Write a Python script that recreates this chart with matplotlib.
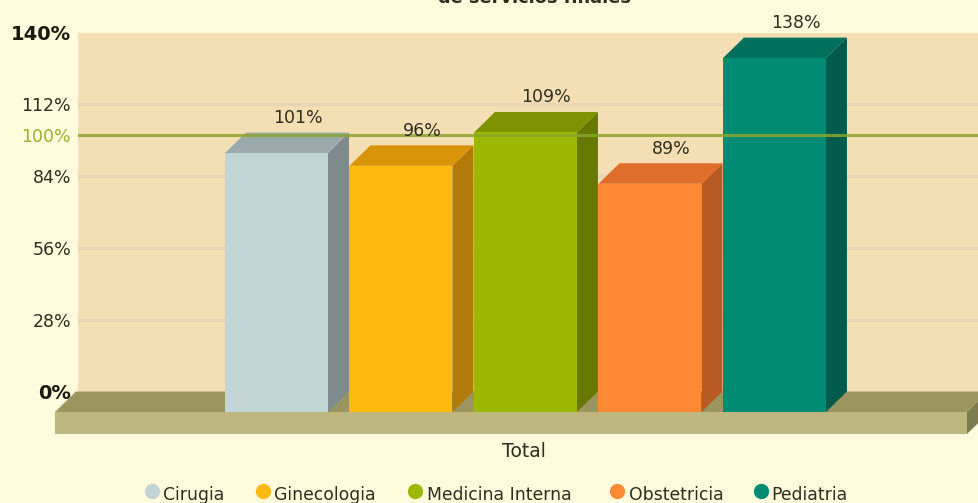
import matplotlib
matplotlib.use("Agg")
import matplotlib.pyplot as plt
from matplotlib.patches import Polygon

servicios = ["Cirugia", "Ginecologia", "Medicina Interna", "Obstetricia", "Pediatria"]
valores = [101, 96, 109, 89, 138]
etiquetas = ["101%", "96%", "109%", "89%", "138%"]
ticks = [0, 28, 56, 84, 112, 140]
tick_labels = ["0%", "28%", "56%", "84%", "112%", "140%"]
meta = 100

frente = ["#C1D4D6", "#FFBA0D", "#9DB800", "#FF8A36", "#008C74"]
arriba = ["#9AAAAB", "#D9950A", "#7E9300", "#E06E2B", "#00705D"]
lado = ["#7E8A8B", "#B27A08", "#667800", "#B85A24", "#005B4C"]

W, H = 979, 503
fondo = "#FFFBDC"
pared = "#F4DFB4"
texto = "#2E2E20"

fig = plt.figure(figsize=(W / 100, H / 100), dpi=100, facecolor=fondo)
# the axes is exactly the back wall of the chart
ax = fig.add_axes([78 / W, 1 - 391.5 / H, (W - 78) / W, 359 / H], facecolor=pared)
ax.set_ylim(0, 140)
ax.set_xlim(-1.594, 5.643)
for s in ax.spines.values():
    s.set_visible(False)

# depth of the fake 3d, in data units
dx = 21 / 124.5
dy = 20.5 / (359 / 140)
ancho = 103 / 124.5
piso = -dy

ax.set_yticks(ticks)
ax.set_yticklabels(tick_labels, fontsize=12.5, color=texto)
ax.tick_params(axis="y", length=0, pad=5)
ax.set_xticks([])
for t, lab in zip(ticks, ax.get_yticklabels()):
    lab.set_verticalalignment("center_baseline")
    if t in (0, 140):
        lab.set_fontweight("bold")
        lab.set_fontsize(14)
        lab.set_color("#1A1A10")
for t in ticks[1:-1]:
    ax.axhline(t, color="#E8D5B8", lw=2.5, zorder=1)


def poly(puntos, color, z):
    ax.add_patch(Polygon(puntos, closed=True, facecolor=color, edgecolor="none",
                         clip_on=False, zorder=z))


# floor
x0 = -1.594 - 23 / 124.5
x1 = x0 + 912 / 124.5
grosor = 22 / (359 / 140)
poly([(x0, piso), (x0 + dx, 0), (x1 + dx, 0), (x1, piso)], "#9B9560", 2)
poly([(x0, piso), (x1, piso), (x1, piso - grosor), (x0, piso - grosor)], "#BDB77F", 2)
poly([(x1, piso), (x1 + dx, 0), (x1 + dx, -grosor), (x1, piso - grosor)], "#7F7B50", 2)

# bars, drawn left to right so each one covers the side of the one before
for i, v in enumerate(valores):
    izq = i - ancho / 2
    der = i + ancho / 2
    z = 3 + i * 0.1
    poly([(der, piso), (der + dx, 0), (der + dx, v), (der, v - dy)], lado[i], z)
    poly([(izq, v - dy), (izq + dx, v), (der + dx, v), (der, v - dy)], arriba[i], z)
    ax.bar(i, v, width=ancho, bottom=piso, color=frente[i], zorder=z, clip_on=False)
    ax.text(i + dx, v + 2.2, etiquetas[i], ha="center", va="bottom", fontsize=12.5,
            color=texto, zorder=6, clip_on=False)

# target line goes over the bars
ax.axhline(meta, color="#8AA52A", lw=2.2, alpha=0.85, zorder=5)
ax.text(-0.0078, meta, "100%", transform=ax.get_yaxis_transform(), ha="right",
        va="center_baseline", fontsize=12.5, color="#9DB22E")

ax.text(1.985, piso - grosor - 3, "Total", ha="center", va="top", fontsize=13.5, color=texto,
        clip_on=False)

# the title sits mostly above the top edge, same as the source image
fig.text(535 / W, 1 - 3 / H, "de servicios finales", ha="center", va="baseline", fontsize=12.8,
         fontweight="bold", color=texto)

# legend
mark_x = [152, 263, 415, 617, 761]
text_x = [163, 274, 427, 629, 771]
for i, nombre in enumerate(servicios):
    fig.text(text_x[i] / W, 1 - 495 / H, nombre, ha="left", va="center", fontsize=12.4,
             color=texto)
    fig.add_artist(plt.Line2D([mark_x[i] / W], [1 - 491 / H], marker="o", ms=11, color=frente[i],
                              mec="none", transform=fig.transFigure))

fig.savefig("out.png", dpi=100, facecolor=fondo)
